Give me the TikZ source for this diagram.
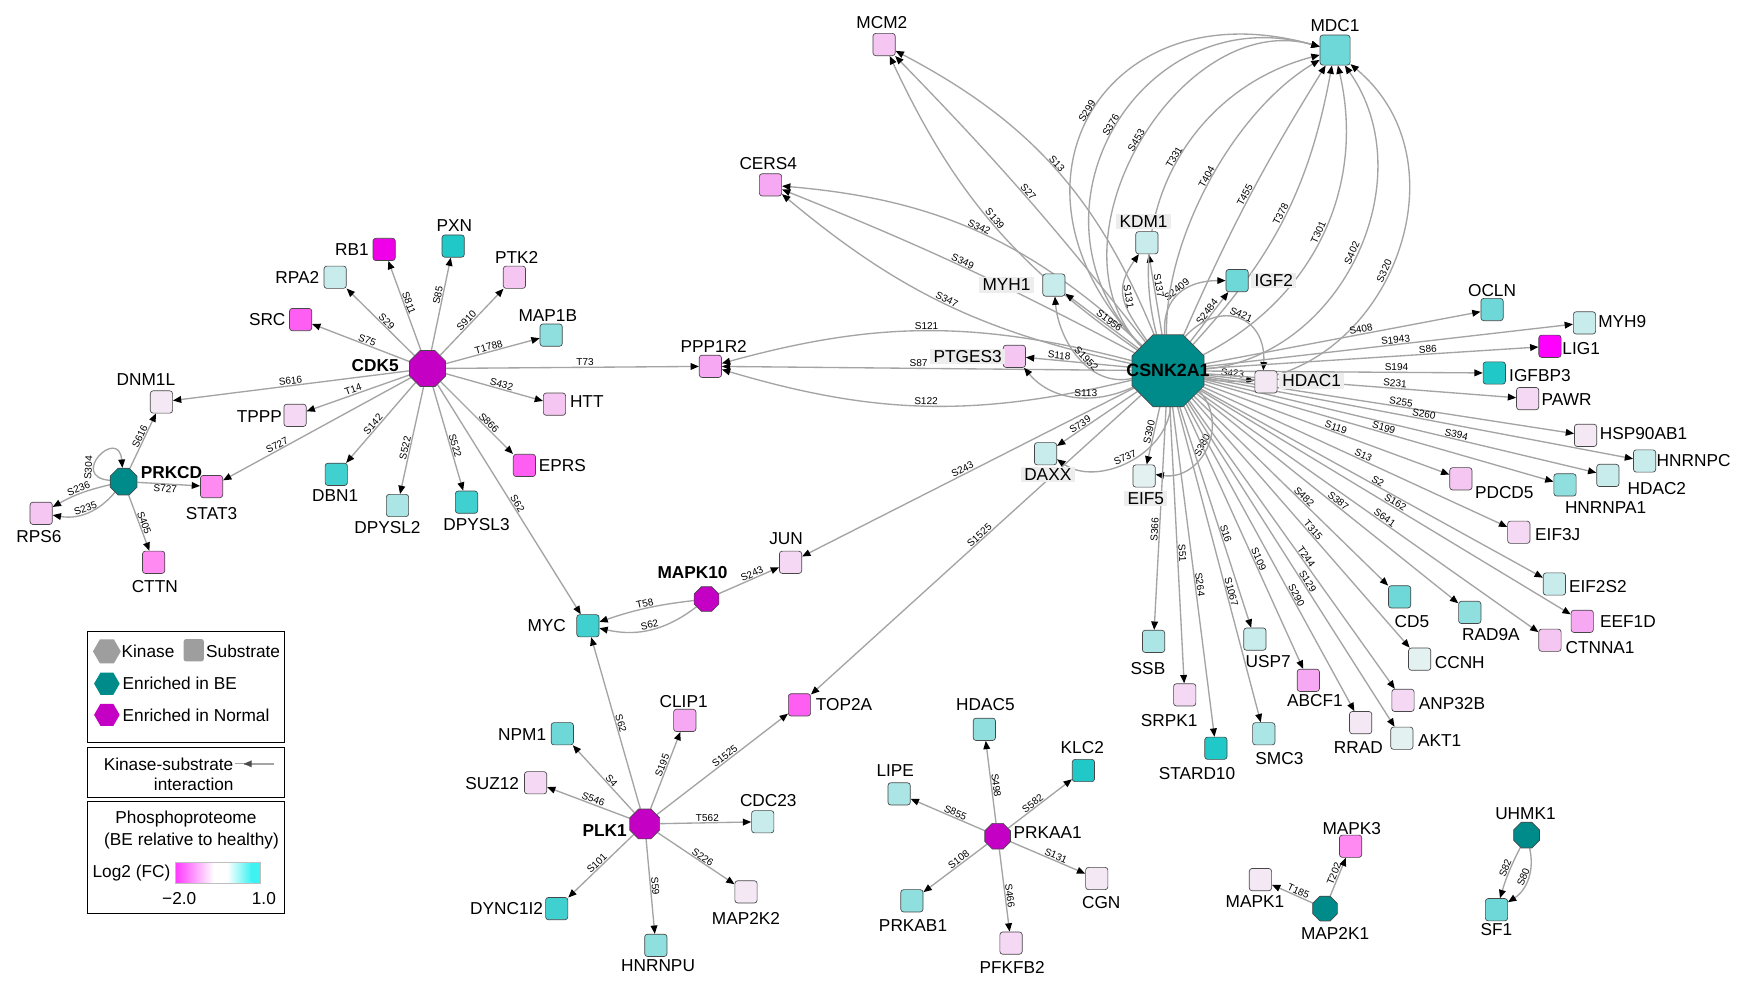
\documentclass[tikz,border=0pt]{standalone}
\usepackage{fontspec}
\setmainfont{Liberation Sans}
\usetikzlibrary{shapes.geometric,arrows.meta}
\pgfdeclarelayer{bgl}
\pgfdeclarelayer{edl}
\pgfsetlayers{bgl,edl,main}
\definecolor{kT}{HTML}{008B8B}
\definecolor{kM}{HTML}{C400C4}
\definecolor{cA}{HTML}{20C8C8}
\definecolor{cB}{HTML}{40D0D0}
\definecolor{cC}{HTML}{6ED8D8}
\definecolor{cD}{HTML}{8FDFDF}
\definecolor{cE}{HTML}{ABE5E5}
\definecolor{cF}{HTML}{C8ECEC}
\definecolor{cG}{HTML}{E4F1F1}
\definecolor{pA}{HTML}{F000E8}
\definecolor{pL}{HTML}{FF00FF}
\definecolor{pB}{HTML}{FF5EF2}
\definecolor{pC}{HTML}{FF8AF2}
\definecolor{pD}{HTML}{F7A8F2}
\definecolor{pE}{HTML}{F5C6F2}
\definecolor{pF}{HTML}{F4D8F4}
\definecolor{pG}{HTML}{F3E8F3}
\definecolor{edgec}{HTML}{A4A4A4}
\definecolor{gM}{HTML}{FF3CFF}
\definecolor{gC}{HTML}{3CF2F2}
\newcommand{\Sb}[5]{\node[sb,fill=#3] (#1) at (#2) {};\node[lab] (#1l) at (#5) {#4};}
\newcommand{\Sh}[5]{\node[sb,fill=#3] (#1) at (#2) {};\node[lab,hl] (#1l) at (#5) {#4};}
\begin{document}
\begin{tikzpicture}[x=1pt,y=1pt,
  sb/.style={draw=black!72,line width=0.6pt,rounded corners=2.5pt,minimum size=20pt,inner sep=0pt},
  kin/.style={regular polygon,regular polygon sides=8,draw=black!72,line width=0.6pt,inner sep=0pt,minimum size=#1},
  lab/.style={font=\fontsize{15.5}{16}\selectfont,inner sep=1pt},
  blab/.style={font=\bfseries\fontsize{15.5}{16}\selectfont,inner sep=1pt},
  hl/.style={fill=black!7,inner xsep=3pt,inner ysep=1.5pt},
  ks/.style={draw=edgec,line width=1.2pt,-{Triangle[length=7.5pt,width=6pt,color=black]}},
  el/.style={font=\fontsize{9}{10}\selectfont,sloped,above,inner sep=0.6pt},
  elb/.style={font=\fontsize{9}{10}\selectfont,sloped,below,inner sep=0.6pt}]
\useasboundingbox (0,0) rectangle (1560,-890);
\begin{pgfonlayer}{bgl}
\fill[white] (0,0) rectangle (1560,-890);
\end{pgfonlayer}

% ---------- kinases ----------
\node[kin=35pt,fill=kM] (CDK5) at (384,-331) {};
\node[blab] at (337,-328) {CDK5};
\node[kin=26pt,fill=kT] (PRKCD) at (111,-432.5) {};
\node[blab] at (154,-424) {PRKCD};
\node[kin=24pt,fill=kM] (MAPK10) at (634.5,-538) {};
\node[blab] at (622,-514) {MAPK10};
\node[kin=29pt,fill=kM] (PLK1) at (579,-740) {};
\node[blab] at (543,-746) {PLK1};
\node[kin=25pt,fill=kM] (PRKAA1) at (896,-751) {};
\node[lab] at (941,-748) {PRKAA1};
\node[kin=24pt,fill=kT] (MAP2K1) at (1190,-816) {};
\node[lab] at (1199,-838) {MAP2K1};
\node[kin=25pt,fill=kT] (UHMK1) at (1371,-750) {};
\node[lab] at (1370,-731) {UHMK1};
\node[kin=70pt,fill=kT] (CS) at (1049,-333) {};

% ---------- CDK5 / PRKCD substrates ----------
\Sb{RB1}{345,-224}{pA}{RB1}{316,-224}
\Sb{PXN}{407,-221}{cA}{PXN}{408,-203}
\Sb{PTK2}{462,-249}{pE}{PTK2}{464,-231}
\Sb{RPA2}{301,-249}{cF}{RPA2}{267,-249}
\Sb{SRC}{270,-287}{pB}{SRC}{240,-287}
\Sb{MAPoneB}{495,-301}{cD}{MAP1B}{492,-283}
\Sb{PPP1R2}{638,-329}{pD}{PPP1R2}{641,-311}
\Sb{DNM1L}{145,-361}{pG}{DNM1L}{131,-341}
\Sb{TPPP}{265,-373}{pF}{TPPP}{233,-374}
\Sb{HTT}{498,-363}{pE}{HTT}{527,-361}
\Sb{EPRS}{471,-418}{pB}{EPRS}{505,-418}
\Sb{DBN1}{302,-426}{cB}{DBN1}{301,-445}
\Sb{DPYSL2}{357,-454}{cE}{DPYSL2}{348,-474}
\Sb{DPYSL3}{419,-451}{cB}{DPYSL3}{428,-471}
\Sb{STAT3}{190,-437}{pC}{STAT3}{190,-461}
\Sb{RPS6}{37,-461}{pE}{RPS6}{35,-482}
\Sb{CTTN}{138,-505}{pC}{CTTN}{139,-527}

% ---------- middle ----------
\Sb{MYC}{528,-562}{cB}{MYC}{491,-562}
\Sb{JUN}{710,-505}{pF}{JUN}{706,-484}
\Sb{TOP2A}{718,-633}{pB}{TOP2A}{758,-633}

% ---------- PLK1 ----------
\Sb{NPM1}{505,-659}{cC}{NPM1}{469,-660}
\Sb{CLIP1}{615,-647}{pD}{CLIP1}{614,-630}
\Sb{SUZ12}{481,-703}{pF}{SUZ12}{442,-704}
\Sb{CDC23}{685,-738}{cF}{CDC23}{690,-719}
\Sb{DYNC1I2}{500,-816}{cB}{DYNC1I2}{455,-816}
\Sb{HNRNPU}{589,-849}{cD}{HNRNPU}{591,-867}
\Sb{MAP2K2}{670,-801}{pG}{MAP2K2}{670,-825}

% ---------- PRKAA1 ----------
\Sb{HDAC5}{884,-655}{cD}{HDAC5}{885,-633}
\Sb{KLC2}{973,-692}{cA}{KLC2}{972,-671}
\Sb{LIPE}{807.5,-713}{cE}{LIPE}{804,-692}
\Sb{PRKAB1}{819,-809}{cD}{PRKAB1}{820,-831}
\Sb{PFKFB2}{908,-847}{pF}{PFKFB2}{909,-869}
\Sb{CGN}{985,-789}{pG}{CGN}{989,-811}

% ---------- MAP2K1 / UHMK1 ----------
\Sb{MAPK3}{1213,-760}{pC}{MAPK3}{1214,-744}
\Sb{MAPK1}{1132,-790}{pG}{MAPK1}{1127,-810}
\Sb{SF1}{1344,-817}{cC}{SF1}{1344,-835}

% ---------- CSNK2A1 substrates ----------
\Sb{MCM2}{794,-40}{pE}{MCM2}{792,-20}
\Sb{CERS4}{692,-166}{pD}{CERS4}{690,-147}
\Sh{PTGES3}{911,-320}{pE}{PTGES3}{869,-320}
\Sh{MYH1}{946.5,-256}{cF}{MYH1}{904,-256}
\Sh{KDM1}{1030,-218}{cF}{KDM1}{1027,-199}
\Sh{IGF2}{1111,-252}{cC}{IGF2}{1144,-252}
\node[sb,fill=cC,minimum size=27pt] (MDC1) at (1199,-45) {};
\node[lab] at (1199,-23) {MDC1};
\Sh{HDAC1}{1137,-343}{pG}{HDAC1}{1178,-342}
\Sb{OCLN}{1340,-278}{cC}{OCLN}{1340,-261}
\Sb{MYH9}{1423,-290}{cF}{MYH9}{1457,-289}
\Sb{LIG1}{1392,-311}{pL}{LIG1}{1420,-313}
\Sb{IGFBP3}{1342,-335}{cA}{IGFBP3}{1383,-337}
\Sb{PAWR}{1372,-358}{pF}{PAWR}{1407,-359}
\Sb{HSP90AB1}{1424,-391}{pG}{HSP90AB1}{1476,-389}
\Sb{HNRNPC}{1477,-414}{cF}{HNRNPC}{1521,-414}
\Sb{HDAC2}{1444,-427}{cF}{HDAC2}{1488,-439}
\Sb{PDCD5}{1312,-430}{pE}{PDCD5}{1351,-442}
\Sb{HNRNPA1}{1405.5,-435.5}{cD}{HNRNPA1}{1442,-456}
\Sb{EIF3J}{1364,-478}{pF}{EIF3J}{1399,-480}
\Sb{EIF2S2}{1396,-524.5}{cF}{EIF2S2}{1435,-527}
\Sb{EEF1D}{1421,-558}{pD}{EEF1D}{1462,-558}
\Sb{CTNNA1}{1392,-575}{pE}{CTNNA1}{1437,-582}
\Sb{RAD9A}{1320,-550}{cD}{RAD9A}{1339,-570}
\Sb{CD5}{1257,-536}{cC}{CD5}{1268,-558}
\Sb{CCNH}{1275,-592}{cG}{CCNH}{1311,-595}
\Sb{ANP32B}{1260,-629}{pF}{ANP32B}{1304,-632}
\Sb{AKT1}{1259,-663}{cG}{AKT1}{1293,-665}
\Sb{RRAD}{1222,-649}{pG}{RRAD}{1220,-671}
\Sb{ABCF1}{1175,-611}{pD}{ABCF1}{1181,-629}
\Sb{USP7}{1127,-574}{cF}{USP7}{1139,-594}
\Sb{SMC3}{1135,-659}{cE}{SMC3}{1149,-681}
\Sb{STARD10}{1092,-672}{cA}{STARD10}{1075,-695}
\Sb{SRPK1}{1064,-624}{pF}{SRPK1}{1050,-647}
\Sb{SSB}{1036,-576}{cE}{SSB}{1031,-600}
\Sh{EIF5}{1027.5,-427.5}{cG}{EIF5}{1029,-447.5}
\Sh{DAXX}{939,-407.5}{cF}{DAXX}{941,-426}

\node[font=\bfseries\fontsize{16}{16}\selectfont,inner sep=0pt] at (1049,-333) {CSNK2A1};

% ---------- edges ----------
\begin{pgfonlayer}{edl}
% CDK5
\draw[ks] (CDK5) -- node[el,pos=.51]{S811} (RB1);
\draw[ks] (CDK5) -- node[el,pos=.58]{S85} (PXN);
\draw[ks] (CDK5) -- node[el,pos=.47]{S910} (PTK2);
\draw[ks] (CDK5) -- node[el,pos=.46]{S29} (RPA2);
\draw[ks] (CDK5) -- node[el,pos=.45]{S75} (SRC);
\draw[ks] (CDK5) -- node[el,pos=.47]{T1788} (MAPoneB);
\draw[ks] (CDK5) -- node[el,pos=.55]{T73} (PPP1R2);
\draw[ks] (CDK5) -- node[el,pos=.5]{S616} (DNM1L);
\draw[ks] (CDK5) -- node[el,pos=.53]{T14} (TPPP);
\draw[ks] (CDK5) -- node[el,pos=.56]{S432} (HTT);
\draw[ks] (CDK5) -- node[el,pos=.62]{S866} (EPRS);
\draw[ks] (CDK5) -- node[el,pos=.56]{S142} (DBN1);
\draw[ks] (CDK5) -- node[el,pos=.58]{S522} (DPYSL2);
\draw[ks] (CDK5) -- node[el,pos=.58]{S522} (DPYSL3);
\draw[ks] (CDK5) -- node[el,pos=.7]{S727} (STAT3);
\draw[ks] (CDK5) -- node[el,pos=.53]{S62} (MYC);
% PRKCD
\draw[ks] (PRKCD) -- node[el,pos=.55]{S616} (DNM1L);
\draw[ks] (PRKCD) -- node[elb,pos=.45]{S727} (STAT3);
\draw[ks] (PRKCD) to[bend right=8] node[el,pos=.5]{S236} (RPS6);
\draw[ks] (PRKCD) to[bend left=30] node[el,pos=.5]{S235} (RPS6);
\draw[ks] (PRKCD) -- node[el,pos=.53]{S405} (CTTN);
\draw[ks] (PRKCD) to[out=175,in=95,min distance=38pt] node[el,pos=.3]{S304} (PRKCD);
% MAPK10
\draw[ks] (MAPK10) -- node[el,pos=.58]{S243} (JUN);
\draw[ks] (MAPK10) to[bend right=6] node[el,pos=.5]{T58} (MYC);
\draw[ks] (MAPK10) to[bend left=25] node[el,pos=.5]{S62} (MYC);
% PLK1
\draw[ks] (PLK1) -- node[el,pos=.49]{S62} (MYC);
\draw[ks] (PLK1) -- node[el,pos=.43]{S4} (NPM1);
\draw[ks] (PLK1) -- node[el,pos=.54]{S195} (CLIP1);
\draw[ks] (PLK1) -- node[el,pos=.46]{S546} (SUZ12);
\draw[ks] (PLK1) -- node[el,pos=.52]{T562} (CDC23);
\draw[ks] (PLK1) -- node[el,pos=.51]{S101} (DYNC1I2);
\draw[ks] (PLK1) -- node[el,pos=.5]{S59} (HNRNPU);
\draw[ks] (PLK1) -- node[el,pos=.55]{S226} (MAP2K2);
\draw[ks] (PLK1) -- node[el,pos=.54]{S1525} (TOP2A);
% PRKAA1
\draw[ks] (PRKAA1) -- node[el,pos=.45]{S498} (HDAC5);
\draw[ks] (PRKAA1) -- node[el,pos=.43]{S582} (KLC2);
\draw[ks] (PRKAA1) -- node[el,pos=.42]{S855} (LIPE);
\draw[ks] (PRKAA1) -- node[el,pos=.4]{S108} (PRKAB1);
\draw[ks] (PRKAA1) -- node[el,pos=.57]{S466} (PFKFB2);
\draw[ks] (PRKAA1) -- node[el,pos=.58]{S131} (CGN);
% MAP2K1, UHMK1
\draw[ks] (MAP2K1) -- node[el,pos=.53]{T202} (MAPK3);
\draw[ks] (MAP2K1) -- node[el,pos=.4]{T185} (MAPK1);
\draw[ks] (UHMK1) to[bend right=5] node[el,pos=.45]{S82} (SF1);
\draw[ks] (UHMK1) to[bend left=35] node[el,pos=.5]{S80} (SF1);
% CSNK2A1 curved
\draw[ks] (CS) to[bend right=20] node[el]{S13} (MCM2);
\draw[ks] (CS) to[bend right=3] node[el]{S27} (MCM2);
\draw[ks] (CS) to[bend left=15] node[el]{S139} (MCM2);
\draw[ks] (CS) to[bend right=19] node[el]{S342} (CERS4);
\draw[ks] (CS) to[bend right=3] node[el]{S349} (CERS4);
\draw[ks] (CS) to[bend left=14] node[el]{S347} (CERS4);
\draw[ks] (CS) to[bend right=15] node[el]{S121} (PPP1R2);
\draw[ks] (CS) -- node[el,pos=.52]{S87} (PPP1R2);
\draw[ks] (CS) to[bend left=15] node[el]{S122} (PPP1R2);
\draw[ks] (CS) -- node[el,pos=.69]{S118} (PTGES3);
\draw[ks] (CS) to[out=205,in=-50] node[el,pos=.4]{S113} (PTGES3);
\draw[ks] (CS) -- node[el,pos=.44]{S1956} (MYH1);
\draw[ks] (CS) to[out=192,in=-85] node[el,pos=.45]{S1952} (MYH1);
\draw[ks] (CS) -- node[el,pos=.6]{S137} (KDM1);
\draw[ks] (CS) to[out=125,in=235,looseness=1.3] node[el,pos=.5]{S131} (KDM1);
\draw[ks] (CS) -- node[el,pos=.54]{S2484} (IGF2);
\draw[ks] (CS) to[out=95,in=180,looseness=1.2] node[el,pos=.5]{S2409} (IGF2);
\draw[ks] (CS) -- node[el,pos=.55]{S423} (HDAC1);
\draw[ks] (CS) to[bend left=70,looseness=1.6] node[el]{S421} (HDAC1);
\draw[ks] (CS) to[bend left=75,looseness=1.64] node[el]{S299} (MDC1);
\draw[ks] (CS) to[bend left=75,looseness=1.36] node[el]{S376} (MDC1);
\draw[ks] (CS) to[bend left=75,looseness=1.06] node[el]{S453} (MDC1);
\draw[ks] (CS) to[bend left=45,looseness=1.03] node[el]{T331} (MDC1);
\draw[ks] (CS) to[bend left=30,looseness=0.8] node[el]{T404} (MDC1);
\draw[ks] (CS) to[bend left=4] node[el]{T455} (MDC1);
\draw[ks] (CS) to[bend right=16] node[el]{T378} (MDC1);
\draw[ks] (CS) to[bend right=38] node[el]{T301} (MDC1);
\draw[ks] (CS) to[bend right=60,looseness=1.06] node[el]{S402} (MDC1);
\draw[ks] (CS) to[bend right=75,looseness=1.25] node[el]{S320} (MDC1);
\draw[ks] (CS) -- node[el,pos=.68]{S739} (DAXX);
\draw[ks] (CS) to[bend left=60] node[el]{S737} (DAXX);
\draw[ks] (CS) -- node[el,pos=.45]{S390} (EIF5);
\draw[ks] (CS) to[bend left=70,looseness=1.25] node[el]{S380} (EIF5);
\draw[ks] (CS) -- node[el,pos=.51]{S243} (JUN);
\draw[ks] (CS) -- node[el,pos=.48]{S1525} (TOP2A);
% CSNK2A1 fan
\draw[ks] (CS) -- node[el,pos=.57]{S408} (OCLN);
\draw[ks] (CS) -- node[el,pos=.52]{S1943} (MYH9);
\draw[ks] (CS) -- node[el,pos=.67]{S86} (LIG1);
\draw[ks] (CS) -- node[el,pos=.69]{S194} (IGFBP3);
\draw[ks] (CS) -- node[el,pos=.61]{S231} (PAWR);
\draw[ks] (CS) -- node[el,pos=.53]{S255} (HSP90AB1);
\draw[ks] (CS) -- node[el,pos=.51]{S260} (HNRNPC);
\draw[ks] (CS) -- node[el,pos=.64]{S394} (HDAC2);
\draw[ks] (CS) -- node[el,pos=.51]{S199} (HNRNPA1);
\draw[ks] (CS) -- node[el,pos=.53]{S119} (PDCD5);
\draw[ks] (CS) -- node[el,pos=.52]{S13} (EIF3J);
\draw[ks] (CS) -- node[el,pos=.51]{S2} (EIF2S2);
\draw[ks] (CS) -- node[el,pos=.52]{S162} (EEF1D);
\draw[ks] (CS) -- node[el,pos=.54]{S641} (CTNNA1);
\draw[ks] (CS) -- node[el,pos=.53]{S387} (RAD9A);
\draw[ks] (CS) -- node[el,pos=.55]{S482} (CD5);
\draw[ks] (CS) -- node[el,pos=.54]{T315} (CCNH);
\draw[ks] (CS) -- node[el,pos=.55]{T244} (ANP32B);
\draw[ks] (CS) -- node[el,pos=.56]{S129} (AKT1);
\draw[ks] (CS) -- node[el,pos=.63]{S290} (RRAD);
\draw[ks] (CS) -- node[el,pos=.59]{S109} (ABCF1);
\draw[ks] (CS) -- node[el,pos=.58]{S16} (USP7);
\draw[ks] (CS) -- node[el,pos=.59]{S1067} (SMC3);
\draw[ks] (CS) -- node[el,pos=.54]{S264} (STARD10);
\draw[ks] (CS) -- node[el,pos=.53]{S51} (SRPK1);
\draw[ks] (CS) -- node[el,pos=.55]{S366} (SSB);
\end{pgfonlayer}

% ---------- legend ----------
\draw[line width=0.9pt] (79,-567) rectangle (255.5,-667);
\node[regular polygon,regular polygon sides=6,minimum size=25pt,inner sep=0pt,fill=black!38] (lgK) at (96,-585) {};
\node[lab,anchor=west] at (108,-585) {Kinase};
\node[fill=black!38,rounded corners=2pt,minimum width=18pt,minimum height=20pt,inner sep=0pt] (lgS) at (174,-584) {};
\node[lab,anchor=west] at (184,-585) {Substrate};
\node[regular polygon,regular polygon sides=6,minimum size=23pt,inner sep=0pt,fill=kT] (lgB) at (96,-614) {};
\node[lab,anchor=west] at (109,-614) {Enriched in BE};
\node[regular polygon,regular polygon sides=6,minimum size=23pt,inner sep=0pt,fill=kM] (lgN) at (96,-642) {};
\node[lab,anchor=west] at (109,-642) {Enriched in Normal};
\draw[line width=0.9pt] (79,-671) rectangle (255.5,-716);
\node[lab,anchor=west] at (92,-686) {Kinase-substrate};
\coordinate (lgA1) at (246,-686);
\coordinate (lgA2) at (219,-686);
\coordinate (lgA3) at (211,-686);
\draw[draw=edgec,line width=1.8pt] (lgA1) -- (lgA2);
\draw[draw=edgec,line width=0.8pt] (lgA2) -- (lgA3);
\draw[draw=edgec,line width=0.1pt,-{Triangle[length=7pt,width=6pt,color=black!70]}] (lgA1) -- (lgA2);
\node[lab] at (174,-704) {interaction};
\draw[line width=0.9pt] (79,-720) rectangle (255.5,-820);
\node[lab] at (167,-736) {Phosphoproteome};
\node[lab] at (172,-755) {(BE relative to healthy)};
\node[lab,anchor=west] at (82,-784) {Log2 (FC)};
\shade[left color=gM,right color=white] (158,-775) rectangle (192,-793);
\fill[white] (192,-775) rectangle (204,-793);
\shade[left color=white,right color=gC] (204,-775) rectangle (226,-793);
\fill[gC] (226,-775) rectangle (234,-793);
\draw[black!25,line width=0.8pt] (158,-775) rectangle (234,-793);
\node[lab] at (161,-807) {−2.0};
\node[lab] at (237,-807) {1.0};
\end{tikzpicture}
\end{document}
